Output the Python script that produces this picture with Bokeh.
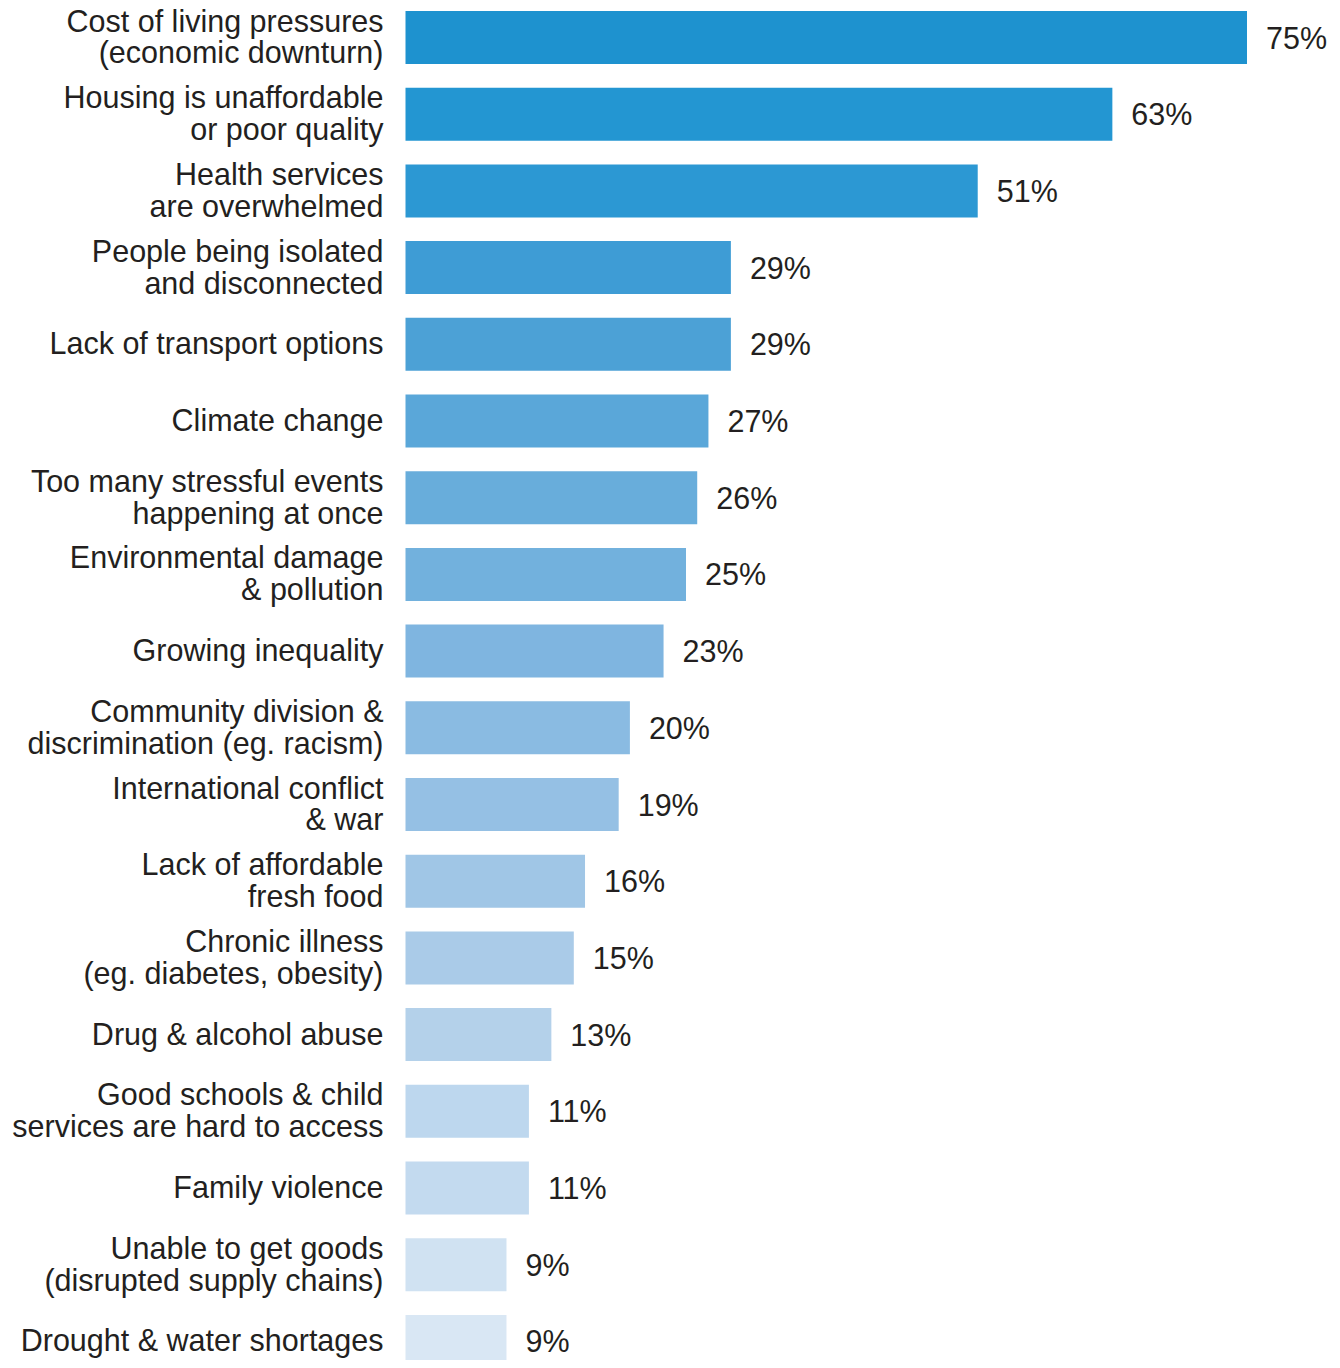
from bokeh.plotting import figure
from bokeh.models import Range1d, ColumnDataSource
from bokeh.core.properties import value
from bokeh.embed import file_html
from bokeh.resources import INLINE

categories = [
    "Cost of living pressures\n(economic downturn)",
    "Housing is unaffordable\nor poor quality",
    "Health services\nare overwhelmed",
    "People being isolated\nand disconnected",
    "Lack of transport options",
    "Climate change",
    "Too many stressful events\nhappening at once",
    "Environmental damage\n& pollution",
    "Growing inequality",
    "Community division &\ndiscrimination (eg. racism)",
    "International conflict\n& war",
    "Lack of affordable\nfresh food",
    "Chronic illness\n(eg. diabetes, obesity)",
    "Drug & alcohol abuse",
    "Good schools & child\nservices are hard to access",
    "Family violence",
    "Unable to get goods\n(disrupted supply chains)",
    "Drought & water shortages",
]
values = [75, 63, 51, 29, 29, 27, 26, 25, 23, 20, 19, 16, 15, 13, 11, 11, 9, 9]
colors = [
    "#1E92CF", "#2396D2", "#2C98D3", "#3E9CD5", "#4CA1D6", "#5AA7D9",
    "#68ADDB", "#72B1DD", "#7FB5E0", "#8ABBE2", "#95C0E4", "#A0C6E6",
    "#AACBE8", "#B4D1EA", "#BDD7EE", "#C3DAEF", "#D0E2F2", "#D9E7F4",
]

pos = list(range(len(categories)))
src = ColumnDataSource(dict(
    y=pos, v=values, cat=categories, col=colors,
    lab=[f"{v}%" for v in values],
))

W, H = 1332, 1360
px_per = 11.22
x0 = 405
c0 = 37.0
step = 76.7
p = figure(width=W, height=H, output_backend="svg", toolbar_location=None,
           x_range=Range1d(-x0 / px_per, (W - x0) / px_per),
           y_range=Range1d((H - c0) / step, -c0 / step),
           min_border=0, outline_line_color=None)
p.axis.visible = False
p.grid.visible = False
p.background_fill_color = "white"
p.border_fill_color = "white"

p.hbar(y="y", left=0, right="v", height=53 / step, color="col", line_color=None, source=src)
p.text(x=0, y="y", text="cat", source=src, x_offset=-22, y_offset=-1, text_align="right",
       text_baseline="middle", text_font=value("Liberation Sans"),
       text_font_size="30.5px", text_color="#231F20", text_line_height=0.94)
p.text(x="v", y="y", text="lab", source=src, x_offset=19, text_align="left",
       text_baseline="middle", text_font=value("Liberation Sans"),
       text_font_size="30.5px", text_color="#231F20")

open("out.html", "w").write(file_html(p, INLINE))
